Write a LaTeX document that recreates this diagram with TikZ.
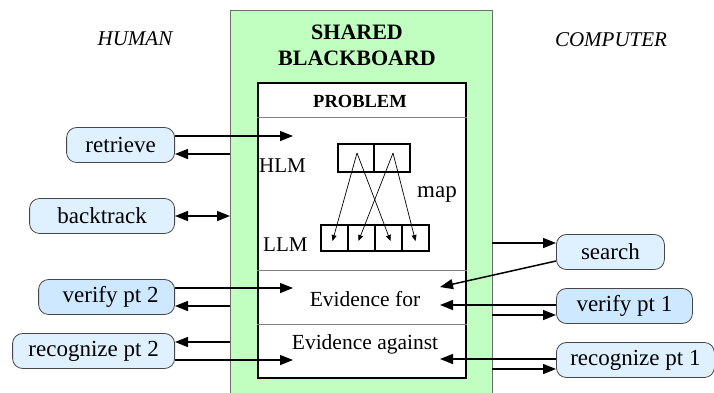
\documentclass[tikz,border=0pt]{standalone}
\usepackage{fontspec}
\setmainfont{Liberation Serif}
\usetikzlibrary{arrows.meta}
\definecolor{boardgreen}{RGB}{192,255,192}
\definecolor{boxblue}{RGB}{223,241,255}
\definecolor{boxbluemid}{RGB}{206,233,255}
\definecolor{edgegray}{RGB}{70,70,70}
\tikzset{
  txt/.style={font=\fontsize{21.5}{25}\selectfont, inner sep=0pt},
  lbl/.style={font=\fontsize{23}{26}\selectfont, inner sep=0pt},
  caps/.style={font=\fontsize{21}{25}\selectfont, inner sep=0pt},
  agent/.style={lbl, draw=edgegray, line width=0.8pt, rounded corners=10pt,
    fill=boxblue, minimum height=35pt},
  agentmid/.style={agent, fill=boxbluemid},
  arr/.style={line width=1.5pt, -{Triangle[length=13pt,width=10pt]}},
  dblarr/.style={line width=1.5pt, {Triangle[length=13pt,width=10pt]}-{Triangle[length=13pt,width=10pt]}},
  cell/.style={draw, line width=1.2pt, inner sep=0pt},
  maparr/.style={line width=0.7pt, -{Triangle[length=6pt,width=5pt]}},
  divider/.style={draw=gray, line width=1pt}
}
\begin{document}
\begin{tikzpicture}[x=1pt,y=-1pt]
\useasboundingbox (0,0) rectangle (714,392);

% shared blackboard
\node[draw=gray!85!black, line width=0.8pt, fill=boardgreen, anchor=north west,
  minimum width=262pt, minimum height=400pt, inner sep=0pt] (board) at (230,10) {};
\node[inner sep=0pt, font=\fontsize{22}{26}\selectfont\bfseries, align=center] (title) at (357,45)
  {SHARED\\BLACKBOARD};

% problem area
\node[draw, line width=1.6pt, fill=white, anchor=north west,
  minimum width=208pt, minimum height=295pt, inner sep=0pt] (problem) at (257,82) {};
\node[inner sep=0pt, font=\fontsize{18.5}{22}\selectfont\bfseries] (ptitle) at (360,101) {PROBLEM};
\coordinate (d1) at (257,117);
\coordinate (d2) at (257,270);
\coordinate (d3) at (257,324);
\draw[divider] (d1) -- (d1 -| problem.east);
\draw[divider] (d2) -- (d2 -| problem.east);
\draw[divider] (d3) -- (d3 -| problem.east);

\node[caps, anchor=west] (hlm) at (259,166) {HLM};
\node[caps, anchor=west] (llm) at (263,245) {LLM};
\node[lbl] (map) at (437,195) {map};

% high-level and low-level model cells
\node[cell, minimum width=36pt, minimum height=28pt] (h1) at (356,158) {};
\node[cell, minimum width=36pt, minimum height=28pt] (h2) at (392,158) {};
\node[cell, minimum width=27pt, minimum height=26pt] (l1) at (334.5,238) {};
\node[cell, minimum width=27pt, minimum height=26pt] (l2) at (361.5,238) {};
\node[cell, minimum width=27pt, minimum height=26pt] (l3) at (388.5,238) {};
\node[cell, minimum width=27pt, minimum height=26pt] (l4) at (415.5,238) {};
\draw[maparr] ([xshift=1pt,yshift=5pt]h1.center) -- ([xshift=-2pt,yshift=-3pt]l1.center);
\draw[maparr] ([xshift=1pt,yshift=5pt]h1.center) -- ([xshift=2pt,yshift=-3pt]l3.center);
\draw[maparr] ([xshift=1pt,yshift=5pt]h2.center) -- ([xshift=-3pt,yshift=-3pt]l2.center);
\draw[maparr] ([xshift=1pt,yshift=5pt]h2.center) -- ([xshift=0pt,yshift=-3pt]l4.center);

\node[txt] (evfor) at (365,299) {Evidence for};
\node[txt] (evagainst) at (365,344) {Evidence against};

% side headings
\node[caps, font=\fontsize{21}{25}\selectfont\itshape] (human) at (135,39) {HUMAN};
\node[caps, font=\fontsize{21}{25}\selectfont\itshape] (computer) at (611,40) {COMPUTER};

% human agents
\node[agent, anchor=east, minimum width=108pt] (retrieve) at (175,145) {retrieve};
\node[agent, anchor=east, minimum width=145pt] (backtrack) at (175,216) {backtrack};
\node[agentmid, anchor=east, minimum width=136pt] (verify2) at (175,297) {\hspace*{8pt}verify pt 2};
\node[agent, anchor=east, minimum width=162pt] (recog2) at (175,351) {recognize pt 2};

% computer agents
\node[agent, anchor=west, minimum width=108pt] (search) at (556,252) {search};
\node[agentmid, anchor=west, minimum width=136pt] (verify1) at (556,306) {verify pt 1};
\node[agent, anchor=west, minimum width=158pt] (recog1) at (556,360) {recognize pt 1};

% free ends of the connectors
\coordinate (rOut) at (293,136);
\coordinate (rBack) at (230,154);
\coordinate (bEnd) at (230,216);
\coordinate (v2Out) at (293,288);
\coordinate (v2Back) at (230,306);
\coordinate (r2Back) at (230,342);
\coordinate (r2Out) at (293,360);
\coordinate (sOut) at (492,243);
\coordinate (sIn) at (440,287);
\coordinate (v1In) at (440,305);
\coordinate (v1Out) at (492,315);
\coordinate (r1In) at (440,359);
\coordinate (r1Out) at (492,369);

% human side connectors
\draw[arr] (retrieve.east |- rOut) -- (rOut);
\draw[arr] (rBack) -- (retrieve.east |- rBack);
\draw[dblarr] (backtrack.east) -- (bEnd);
\draw[arr] (verify2.east |- v2Out) -- (v2Out);
\draw[arr] (v2Back) -- (verify2.east |- v2Back);
\draw[arr] (r2Back) -- (recog2.east |- r2Back);
\draw[arr] (recog2.east |- r2Out) -- (r2Out);

% computer side connectors
\draw[arr] (sOut) -- (search.west |- sOut);
\draw[arr] ([yshift=-9pt]search.west) -- (sIn);
\draw[arr] (verify1.west |- v1In) -- (v1In);
\draw[arr] (v1Out) -- (verify1.west |- v1Out);
\draw[arr] (recog1.west |- r1In) -- (r1In);
\draw[arr] (r1Out) -- (recog1.west |- r1Out);
\end{tikzpicture}
\end{document}
